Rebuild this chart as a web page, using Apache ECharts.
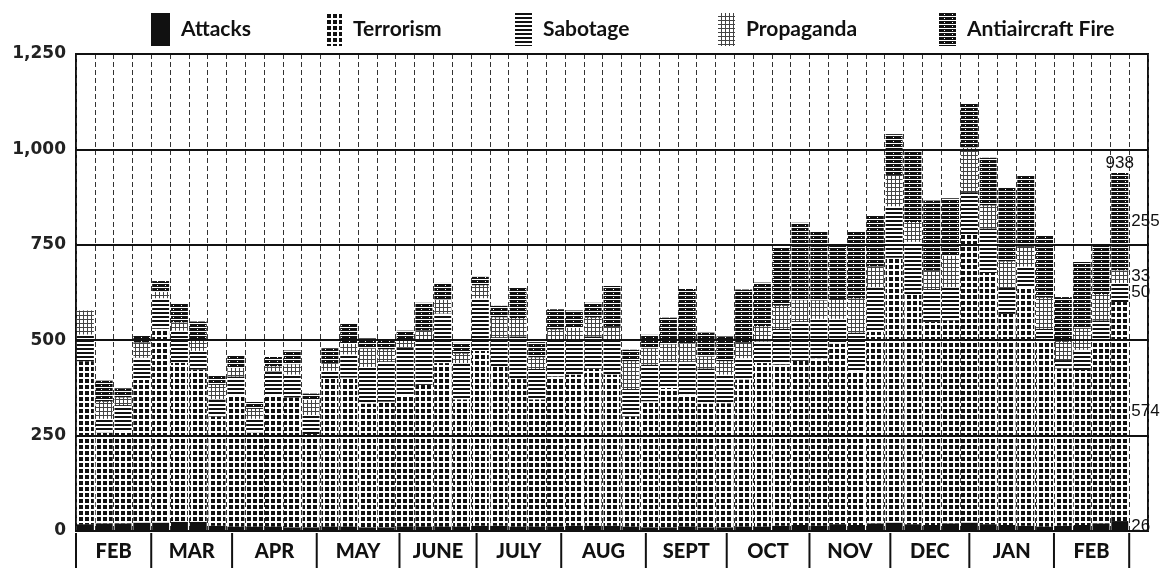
<!DOCTYPE html>
<html>
<head>
<meta charset="utf-8">
<script src="https://cdn.jsdelivr.net/npm/echarts@6/dist/echarts.min.js"></script>
<style>
html,body{margin:0;padding:0;background:#fff;}
#chart{width:1168px;height:574px;}
</style>
</head>
<body>
<div id="chart"></div>
<script>
// ---- DATA (weekly incidents, Feb through following Feb) ----
const weekCount = 57; // 56 weekly bars plus one empty annotation slot
const weeks = Array.from({length: weekCount}, (_, i) => 'Week ' + (i + 1));

const attacks = [
  18,20,20,22,22,24,24,14,12,12,
  12,10,10,12,12,10,10,12,12,12,
  12,14,14,12,12,12,14,14,14,12,
  10,10,12,10,10,12,12,14,16,14,
  18,16,20,22,18,16,20,22,18,16,
  14,12,14,16,20,26
];
const terrorism = [
  427,239,242,374,508,417,399,286,343,247,
  344,340,244,388,390,324,329,344,371,428,
  333,458,416,386,333,393,396,411,396,288,
  330,365,345,324,325,385,428,422,430,438,
  473,404,502,694,603,532,532,755,658,553,
  623,488,412,406,480,574
];
const sabotage = [
  70,35,68,58,80,84,49,45,50,35,
  62,60,50,20,61,96,106,124,115,130,
  95,138,78,112,80,97,92,85,92,72,
  96,70,88,92,75,56,57,94,104,104,
  65,100,117,135,137,86,87,111,117,68,
  56,30,22,53,52,50
];
const propaganda = [
  63,45,20,40,17,22,26,38,22,26,
  14,27,40,20,27,48,31,18,27,37,
  25,34,52,48,30,26,30,49,33,73,
  42,44,47,31,35,40,40,60,55,48,
  52,90,54,82,52,48,82,117,60,69,
  52,81,48,55,69,33
];
const antiaircraft = [
  0,55,24,17,28,49,51,25,34,18,
  24,36,16,39,54,27,27,27,73,43,
  28,22,30,80,40,53,46,39,107,30,
  36,70,142,63,65,140,114,153,203,182,
  144,176,134,107,186,184,151,115,125,194,
  186,164,117,175,131,255
];

const months = ['FEB','MAR','APR','MAY','JUNE','JULY','AUG','SEPT','OCT','NOV','DEC','JAN','FEB'];
const monthEdges = [0, 4, 8.3, 12.8, 17.2, 21.3, 25.8, 30.3, 34.6, 39.0, 43.3, 47.5, 52.0, 56.0];

const yTicks = [0, 250, 500, 750, 1000, 1250];

// ---- PATTERNS ----
function pattern(w, h, draw) {
  const c = document.createElement('canvas');
  c.width = w; c.height = h;
  const g = c.getContext('2d');
  g.fillStyle = '#fff'; g.fillRect(0, 0, w, h);
  g.fillStyle = '#111';
  draw(g);
  return {image: c, repeat: 'repeat'};
}
const fills = {
  'Attacks': '#111',
  'Terrorism': pattern(6, 6, g => g.fillRect(1, 1, 4, 4)),
  'Sabotage': pattern(4, 4, g => g.fillRect(0, 0, 4, 2)),
  'Propaganda': pattern(4, 4, g => { g.fillStyle = '#444'; g.fillRect(0, 3, 4, 1); g.fillRect(3, 0, 1, 4); }),
  'Antiaircraft Fire': pattern(8, 4, g => { g.fillRect(0, 0, 8, 3); g.fillStyle = '#fff'; g.fillRect(5, 1, 1, 1); })
};

const seriesDefs = [
  ['Attacks', attacks],
  ['Terrorism', terrorism],
  ['Sabotage', sabotage],
  ['Propaganda', propaganda],
  ['Antiaircraft Fire', antiaircraft]
];
const lastIdx = attacks.length - 1;
const lastTotal = seriesDefs.reduce((s, d) => s + d[1][lastIdx], 0);

const annotFont = {fontFamily: 'Liberation Sans, sans-serif', fontSize: 17, color: '#111'};

const barSeries = seriesDefs.map(([name, arr], k) => {
  const s = {
    name: name,
    type: 'bar',
    stack: 'total',
    xAxisIndex: 0, yAxisIndex: 0,
    barCategoryGap: '10%',
    itemStyle: {color: fills[name]},
    emphasis: {disabled: true},
    data: arr.map((v, i) => i === lastIdx ? {
      value: v,
      label: Object.assign({show: true, position: 'right', distance: 3, formatter: '{c}'}, annotFont)
    } : v)
  };
  if (name === 'Antiaircraft Fire') {
    s.markPoint = {
      symbol: 'circle', symbolSize: 0,
      silent: true,
      label: Object.assign({show: true, position: 'top', distance: 1, formatter: String(lastTotal)}, annotFont),
      data: [{coord: [lastIdx, lastTotal], value: lastTotal}]
    };
  }
  return s;
});

const monthSeries = {
  type: 'custom',
  xAxisIndex: 1, yAxisIndex: 1,
  silent: true,
  data: months.map((m, i) => [monthEdges[i], monthEdges[i + 1], 0.5]),
  renderItem: function (params, api) {
    const cs = params.coordSys;
    const x0 = api.coord([api.value(0), 0.5])[0];
    const x1 = api.coord([api.value(1), 0.5])[0];
    const y0 = cs.y + 2, y1 = cs.y + 37;
    const children = [
      {type: 'line', shape: {x1: x0, y1: y0, x2: x0, y2: y1}, style: {stroke: '#111', lineWidth: 2}},
      {type: 'text', style: {text: months[params.dataIndex], x: (x0 + x1) / 2, y: (y0 + y1) / 2 + 1,
        align: 'center', verticalAlign: 'middle', fontFamily: 'Lato, sans-serif', fontWeight: 900, fontSize: 20, fill: '#111'}}
    ];
    if (params.dataIndex === months.length - 1) {
      children.push({type: 'line', shape: {x1: x1, y1: y0, x2: x1, y2: y1}, style: {stroke: '#111', lineWidth: 2}});
    }
    return {type: 'group', children: children};
  }
};

const legendPos = [146, 321, 510, 713, 934];
const legendW = [19, 16, 17, 17, 17];

const option = {
  animation: false,
  backgroundColor: '#fff',
  legend: seriesDefs.map(([name], i) => ({
    data: [name],
    left: legendPos[i],
    top: 8,
    icon: 'rect',
    itemWidth: legendW[i],
    itemHeight: 33,
    selectedMode: false,
    textStyle: {fontFamily: 'Lato, sans-serif', fontWeight: 'bold', fontSize: 21, color: '#111', padding: [3, 0, 0, 6]}
  })),
  grid: [
    {left: 76, right: 20, top: 54, bottom: 43, show: true, borderColor: '#111', borderWidth: 2, backgroundColor: 'transparent'},
    {left: 76, right: 20, top: 531, height: 43}
  ],
  xAxis: [
    {type: 'category', gridIndex: 0, data: weeks, boundaryGap: true,
     axisLine: {show: false}, axisTick: {show: false}, axisLabel: {show: false},
     splitLine: {show: true, interval: 0, lineStyle: {color: '#333', width: 1, type: [5, 3]}}},
    {type: 'value', gridIndex: 1, min: 0, max: weekCount, show: false}
  ],
  yAxis: [
    {type: 'value', gridIndex: 0, min: yTicks[0], max: yTicks[yTicks.length - 1], interval: 250, z: 5,
     axisLine: {show: false}, axisTick: {show: false},
     axisLabel: {margin: 10, fontFamily: 'DejaVu Sans, sans-serif', fontWeight: 'bold', fontSize: 17, color: '#222',
       formatter: v => v.toLocaleString('en-US')},
     splitLine: {show: true, lineStyle: {color: '#111', width: 2}}},
    {type: 'value', gridIndex: 1, min: 0, max: 1, show: false}
  ],
  series: barSeries.concat([monthSeries])
};

const chart = echarts.init(document.getElementById('chart'), null, {renderer: 'canvas'});
chart.setOption(option);
</script>
</body>
</html>
